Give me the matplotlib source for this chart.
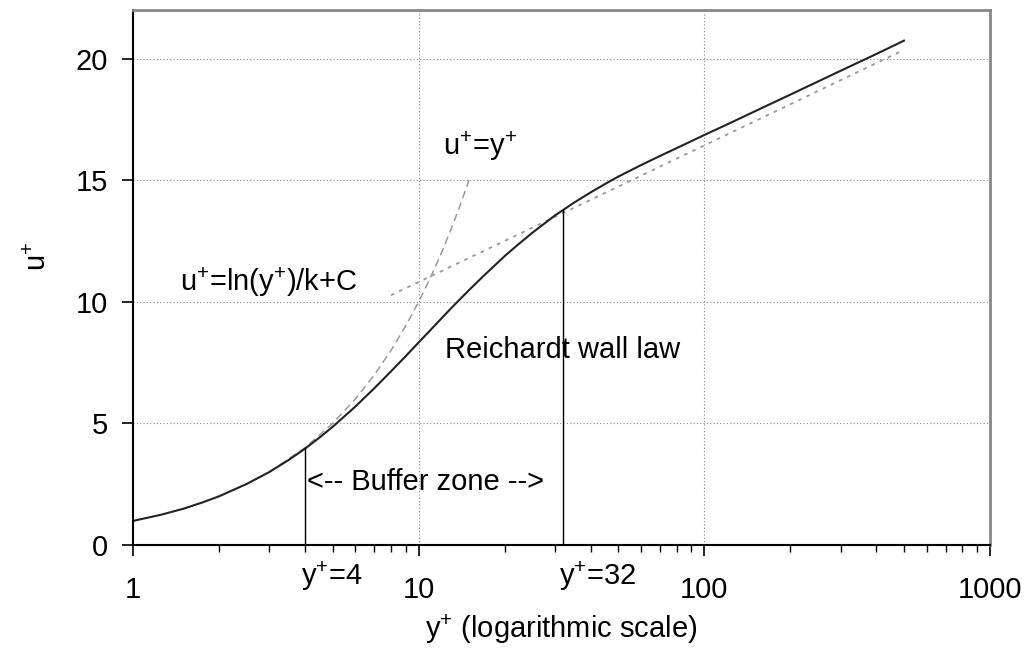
import matplotlib
matplotlib.use("Agg")
import matplotlib.pyplot as plt

plt.rcParams['font.family'] = ['Liberation Sans', 'DejaVu Sans']
plt.rcParams['mathtext.fontset'] = 'custom'
plt.rcParams['mathtext.rm'] = 'Liberation Sans'
plt.rcParams['mathtext.it'] = 'Liberation Sans'
plt.rcParams['mathtext.default'] = 'regular'

# Reichardt wall law
y_reich = [1, 1.25, 1.5, 1.75, 2, 2.5, 3, 3.5, 4, 4.5, 5, 6, 7, 8, 9, 10, 11, 12, 13, 15, 17, 20,
           22, 25, 30, 32, 35, 40, 45, 50, 60, 70, 80, 100, 120, 150, 200, 250, 300, 400, 500]
u_reich = [0.99, 1.24, 1.49, 1.75, 2.0, 2.51, 3.0, 3.49, 3.96, 4.42, 4.86, 5.69, 6.45, 7.14, 7.76,
           8.33, 8.84, 9.31, 9.74, 10.48, 11.1, 11.88, 12.3, 12.84, 13.55, 13.77, 14.08, 14.5,
           14.85, 15.15, 15.62, 16.0, 16.32, 16.86, 17.29, 17.83, 18.52, 19.06, 19.5, 20.19, 20.74]

# viscous sublayer u+ = y+
y_lin = [3, 4, 5, 6, 7, 8, 9, 10, 11, 12, 13, 14, 15]
u_lin = [3, 4, 5, 6, 7, 8, 9, 10, 11, 12, 13, 14, 15]

# log law
y_log = [8, 32, 500]
u_log = [10.27, 13.65, 20.36]

# buffer zone limits
y_buf = [4, 32]
u_buf = [3.96, 13.77]

fs = 21

fig = plt.figure(figsize=(10.28, 6.54), dpi=100)
ax = fig.add_axes([0.1294, 0.1667, 0.8336, 0.818])

ax.plot(y_lin, u_lin, color='#999999', linestyle=(0, (5, 3)), linewidth=1.1)
ax.plot(y_log, u_log, color='#999999', linestyle=(0, (2, 3)), linewidth=1.3)
ax.plot(y_reich, u_reich, color='#222222', linewidth=1.5)
for yb, ub in zip(y_buf, u_buf):
    ax.plot([yb, yb], [0, ub], color='black', linewidth=1)

ax.set_xscale('log')
ax.set_xlim(1, 1000)
ax.set_ylim(0, 22)
ax.set_xticks([1, 10, 100, 1000])
ax.set_xticklabels(['1', '10', '100', '1000'])
ax.set_yticks([0, 5, 10, 15, 20])
ax.grid(True, which='major', linestyle=(0, (1, 2)), color='#888888', linewidth=0.8)

ax.tick_params(axis='both', which='major', labelsize=fs, length=8, width=1.2, direction='out')
ax.tick_params(axis='x', which='major', pad=14)
ax.tick_params(axis='y', which='major', pad=10)
ax.tick_params(axis='x', which='minor', length=5, width=1, direction='out')

ax.spines['left'].set_linewidth(1.5)
ax.spines['bottom'].set_linewidth(1.5)
ax.spines['top'].set_color('#888888')
ax.spines['right'].set_color('#888888')
ax.spines['top'].set_linewidth(2)
ax.spines['right'].set_linewidth(2)

ax.set_xlabel(r'y$^{+}$ (logarithmic scale)', fontsize=fs, labelpad=6)
ax.set_ylabel(r'u$^{+}$', fontsize=fs, labelpad=17, y=0.54)

ax.text(16.4, 15.7, r'u$^{+}$=y$^{+}$', fontsize=fs, ha='center', va='bottom')
ax.text(1.46, 10.8, r'u$^{+}$=ln(y$^{+}$)/k+C', fontsize=fs, ha='left', va='center')
ax.text(12.4, 8.0, 'Reichardt wall law', fontsize=fs, ha='left', va='center')
ax.text(4.05, 2.6, '<-- Buffer zone -->', fontsize=fs, ha='left', va='center')

for yb in y_buf:
    ax.text(yb * 0.97, -0.6, r'y$^{+}$=%d' % yb, fontsize=fs, ha='left', va='top')

fig.savefig('out.png', dpi=100)
